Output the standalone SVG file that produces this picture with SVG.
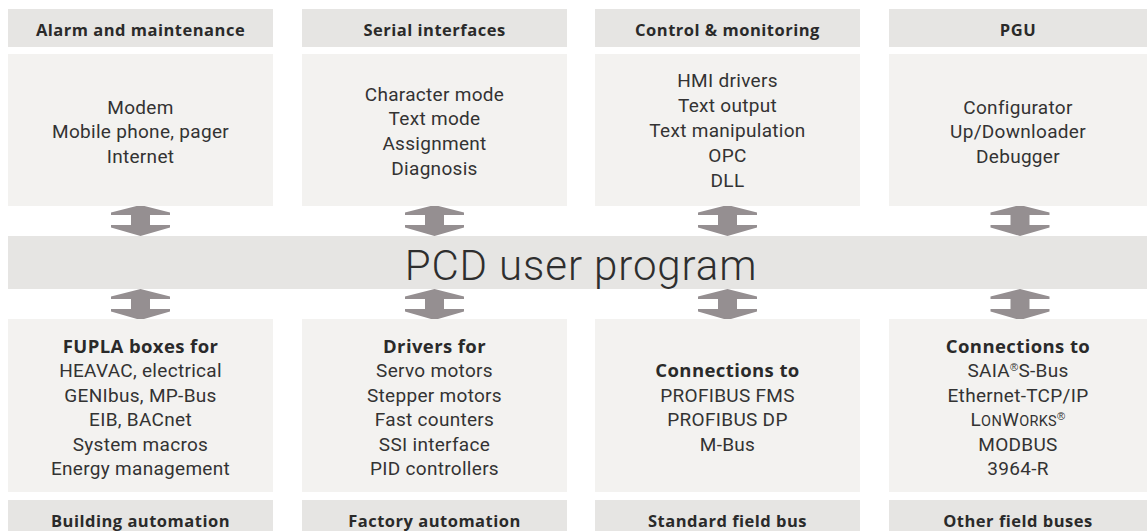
<svg xmlns="http://www.w3.org/2000/svg" xmlns:xlink="http://www.w3.org/1999/xlink" width="1147" height="531" viewBox="0 0 1147 531">
<style>
.hdr{fill:#e6e5e3}
.box{fill:#f3f2f0}
.band{fill:#e6e5e3}
.ht{font-family:"Open Sans",Roboto,"Liberation Sans",sans-serif;font-weight:bold;font-size:16.5px;letter-spacing:0.5px;fill:#2a2a2a;text-anchor:middle}
.ct{font-family:Roboto,"Liberation Sans",sans-serif;font-size:19px;letter-spacing:0.3px;fill:#333;text-anchor:middle}
.b{font-family:"Open Sans",Roboto,"Liberation Sans",sans-serif;font-size:18.5px;letter-spacing:0.4px;font-weight:bold;fill:#2a2a2a}
.big{font-family:Roboto,"Liberation Sans",sans-serif;font-weight:300;font-size:42px;letter-spacing:0.9px;fill:#2e2e2e;text-anchor:middle}
.reg{font-family:"Liberation Sans","DejaVu Sans",sans-serif;font-size:11px;fill:#333}
.arr{fill:#958f91}
</style>
<defs>
<path id="arrow" d="M0,0 L29.5,7.5 L29.5,10 L9.5,10 L9.5,20 L29.5,20 L29.5,22.5 L0,31 L-29.5,22.5 L-29.5,20 L-9.5,20 L-9.5,10 L-29.5,10 L-29.5,7.5 Z"/>
</defs>
<rect id="band" class="band" x="8" y="236" width="1139" height="53"/>
<g id="center">
<text class="big" x="581" y="280">PCD user program</text>
</g>
<g id="connectors" class="arr">
<use xlink:href="#arrow" x="140.5" y="205"/>
<use xlink:href="#arrow" x="434.5" y="205"/>
<use xlink:href="#arrow" x="727.5" y="205"/>
<use xlink:href="#arrow" x="1020" y="205"/>
<use xlink:href="#arrow" x="140.5" y="289"/>
<use xlink:href="#arrow" x="434.5" y="289"/>
<use xlink:href="#arrow" x="727.5" y="289"/>
<use xlink:href="#arrow" x="1020" y="289"/>
</g>
<g id="alarm">
<rect class="hdr" x="8" y="9" width="265" height="38"/>
<text class="ht" x="140.5" y="35.5">Alarm and maintenance</text>
<rect class="box" x="8" y="54" width="265" height="152"/>
<text class="ct" x="140.5" y="113.5">Modem</text>
<text class="ct" x="140.5" y="138.3">Mobile phone, pager</text>
<text class="ct" x="140.5" y="163.1">Internet</text>
</g>
<g id="serial">
<rect class="hdr" x="302" y="9" width="265" height="38"/>
<text class="ht" x="434.5" y="35.5">Serial interfaces</text>
<rect class="box" x="302" y="54" width="265" height="152"/>
<text class="ct" x="434.5" y="100.6">Character mode</text>
<text class="ct" x="434.5" y="125.4">Text mode</text>
<text class="ct" x="434.5" y="150.2">Assignment</text>
<text class="ct" x="434.5" y="175">Diagnosis</text>
</g>
<g id="control">
<rect class="hdr" x="595" y="9" width="265" height="38"/>
<text class="ht" x="727.5" y="35.5">Control &amp; monitoring</text>
<rect class="box" x="595" y="54" width="265" height="152"/>
<text class="ct" x="727.5" y="87.3">HMI drivers</text>
<text class="ct" x="727.5" y="112.1">Text output</text>
<text class="ct" x="727.5" y="136.9">Text manipulation</text>
<text class="ct" x="727.5" y="161.7">OPC</text>
<text class="ct" x="727.5" y="186.5">DLL</text>
</g>
<g id="pgu">
<rect class="hdr" x="889" y="9" width="258" height="38"/>
<text class="ht" x="1018" y="35.5">PGU</text>
<rect class="box" x="889" y="54" width="258" height="152"/>
<text class="ct" x="1018" y="113.5">Configurator</text>
<text class="ct" x="1018" y="138.3">Up/Downloader</text>
<text class="ct" x="1018" y="163.1">Debugger</text>
</g>
<g id="building">
<rect class="box" x="8" y="319" width="265" height="173"/>
<text class="ct b" x="140.5" y="352.7">FUPLA boxes for</text>
<text class="ct" x="140.5" y="377.2">HEAVAC, electrical</text>
<text class="ct" x="140.5" y="401.7">GENIbus, MP-Bus</text>
<text class="ct" x="140.5" y="426.2">EIB, BACnet</text>
<text class="ct" x="140.5" y="450.7">System macros</text>
<text class="ct" x="140.5" y="475.2">Energy management</text>
<rect class="hdr" x="8" y="500" width="265" height="38"/>
<text class="ht" x="140.5" y="526.5">Building automation</text>
</g>
<g id="factory">
<rect class="box" x="302" y="319" width="265" height="173"/>
<text class="ct b" x="434.5" y="352.7">Drivers for</text>
<text class="ct" x="434.5" y="377.2">Servo motors</text>
<text class="ct" x="434.5" y="401.7">Stepper motors</text>
<text class="ct" x="434.5" y="426.2">Fast counters</text>
<text class="ct" x="434.5" y="450.7">SSI interface</text>
<text class="ct" x="434.5" y="475.2">PID controllers</text>
<rect class="hdr" x="302" y="500" width="265" height="38"/>
<text class="ht" x="434.5" y="526.5">Factory automation</text>
</g>
<g id="standard">
<rect class="box" x="595" y="319" width="265" height="173"/>
<text class="ct b" x="727.5" y="377.2">Connections to</text>
<text class="ct" x="727.5" y="401.7">PROFIBUS FMS</text>
<text class="ct" x="727.5" y="426.2">PROFIBUS DP</text>
<text class="ct" x="727.5" y="450.7">M-Bus</text>
<rect class="hdr" x="595" y="500" width="265" height="38"/>
<text class="ht" x="727.5" y="526.5">Standard field bus</text>
</g>
<g id="other">
<rect class="box" x="889" y="319" width="258" height="173"/>
<text class="ct b" x="1018" y="352.7">Connections to</text>
<text class="ct" x="1018" y="377.2">SAIA<tspan class="reg" dy="-6">®</tspan><tspan dy="6">S-Bus</tspan></text>
<text class="ct" x="1018" y="401.7">Ethernet-TCP/IP</text>
<text class="ct" x="1018" y="426.2">L<tspan font-size="14.5">ON</tspan>W<tspan font-size="14.5">ORKS</tspan><tspan class="reg" dy="-6">®</tspan></text>
<text class="ct" x="1018" y="450.7">MODBUS</text>
<text class="ct" x="1018" y="475.2">3964-R</text>
<rect class="hdr" x="889" y="500" width="258" height="38"/>
<text class="ht" x="1018" y="526.5">Other field buses</text>
</g>
</svg>
